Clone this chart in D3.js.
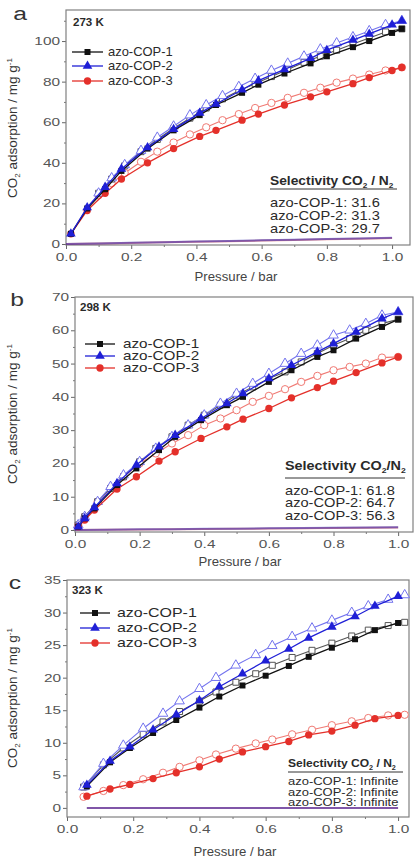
<!DOCTYPE html>
<html>
<head>
<meta charset="utf-8">
<script src="https://cdn.jsdelivr.net/npm/d3@7"></script>
<style>
body { margin: 0; background: #fff; }
text { font-family: "Liberation Sans", Arial, sans-serif; }
</style>
</head>
<body>
<div id="chart"></div>
<script>
// series names and selectivity labels
var names = ["azo-COP-1", "azo-COP-2", "azo-COP-3"];
var selA = ["31.6", "31.3", "29.7"];
var selB = ["61.8", "64.7", "56.3"];
var selC = ["Infinite", "Infinite", "Infinite"];

var xTicks = [0, 0.2, 0.4, 0.6, 0.8, 1.0];
var xMinor = [0.1, 0.3, 0.5, 0.7, 0.9];

// panel a, 273 K
var yTicksA = [0, 20, 40, 60, 80, 100];
var yMinorA = [10, 30, 50, 70, 90, 110];
var pAdsA = [0.015, 0.065, 0.12, 0.17, 0.25, 0.33, 0.41, 0.46, 0.54, 0.59, 0.67, 0.75, 0.80, 0.88, 0.93, 1.00, 1.03];
var ads1A = [5, 17.5, 27, 36, 47, 56, 63.5, 68.5, 74.5, 78.5, 84, 89, 92.5, 97, 100, 104, 106];
var ads2A = [5, 18, 28, 37, 47.5, 56.5, 64.5, 69, 76, 80.5, 86, 91.5, 95.5, 100.5, 103.5, 108, 110];
var ads3A = [5, 16.5, 25, 32, 40, 47, 53, 56, 61, 64, 68.5, 72.5, 75, 79, 82, 85.5, 87];
var pDesA = [1.03, 0.98, 0.93, 0.88, 0.83, 0.78, 0.73, 0.68, 0.63, 0.58, 0.53, 0.48, 0.43, 0.38, 0.33, 0.28, 0.23, 0.18, 0.14, 0.10];
var des1A = [106, 104.5, 101.5, 98.5, 95.5, 92.5, 89.5, 86, 82.5, 79, 75.5, 71.5, 67, 62, 57, 51.5, 45.5, 38.5, 32, 25];
var des2A = [110, 108, 105, 102, 99, 96, 92.5, 89, 85.5, 81.5, 77.5, 73, 68.5, 63.5, 58, 52.5, 46, 39, 32.5, 25];
var des3A = [87, 85.5, 83.5, 81.5, 79.5, 77, 74.5, 72, 69.5, 67, 64, 61, 57.5, 54, 50, 45.5, 40.5, 35, 30, 24];
var pN2A = [0, 0.1, 0.2, 0.3, 0.4, 0.5, 0.6, 0.7, 0.8, 0.9, 1.0];
var n21A = [0, 0.3, 0.6, 0.9, 1.2, 1.5, 1.8, 2.1, 2.4, 2.7, 3.0];
var n22A = [0, 0.3, 0.6, 0.9, 1.2, 1.5, 1.8, 2.1, 2.4, 2.7, 3.1];
var n23A = [0, 0.2, 0.5, 0.8, 1.1, 1.4, 1.7, 2.0, 2.3, 2.6, 2.9];

// panel b, 298 K
var yTicksB = [0, 10, 20, 30, 40, 50, 60, 70];
var yMinorB = [5, 15, 25, 35, 45, 55, 65];
var pAdsB = [0.01, 0.03, 0.06, 0.13, 0.19, 0.26, 0.31, 0.39, 0.47, 0.52, 0.60, 0.67, 0.75, 0.80, 0.87, 0.95, 1.00];
var ads1B = [1, 3.5, 6.5, 13.5, 18.5, 24, 28, 33, 37.5, 40, 44.5, 48, 52, 54, 57.5, 61, 63.3];
var ads2B = [1, 3.5, 6.8, 14, 19.5, 25, 28.5, 33.5, 38, 41, 45.5, 49.5, 53.5, 56, 59.5, 63.5, 65.5];
var ads3B = [1, 3, 6, 12.3, 16, 20.7, 23.5, 27.5, 31, 33.3, 36.5, 39.7, 42.8, 44.7, 47.3, 50.2, 52];
var pDesB = [1.0, 0.95, 0.90, 0.85, 0.80, 0.75, 0.70, 0.65, 0.60, 0.55, 0.50, 0.45, 0.40, 0.35, 0.30, 0.25, 0.20, 0.15, 0.11, 0.07, 0.03, 0.01];
var des1B = [63.3, 62, 60, 57.5, 55.5, 53, 50.5, 47.5, 45.5, 43, 40.5, 37.5, 34.5, 31.5, 28, 24.5, 20.5, 16, 12.5, 8.5, 4, 1.5];
var des2B = [65.5, 64.5, 62, 60, 58.5, 55.5, 53, 50, 47, 44, 41, 38, 34.5, 31.5, 28, 24.5, 20.5, 16.5, 13, 8.5, 4, 1.5];
var des3B = [52, 51.8, 50, 49, 48, 46.3, 44.5, 42.3, 40.3, 38.5, 36, 33.5, 31.5, 28.5, 26, 23, 20, 16, 12.5, 8.5, 4, 1.5];
var pN2B = [0, 0.1, 0.2, 0.3, 0.4, 0.5, 0.6, 0.7, 0.8, 0.9, 1.0];
var n21B = [0, 0.1, 0.15, 0.25, 0.3, 0.4, 0.5, 0.55, 0.65, 0.7, 0.8];
var n22B = [0, 0.1, 0.2, 0.25, 0.35, 0.4, 0.5, 0.6, 0.65, 0.75, 0.85];
var n23B = [0, 0.05, 0.15, 0.2, 0.3, 0.35, 0.45, 0.5, 0.6, 0.65, 0.75];

// panel c, 323 K
var yTicksC = [0, 5, 10, 15, 20, 25, 30, 35];
var yMinorC = [2.5, 7.5, 12.5, 17.5, 22.5, 27.5, 32.5];
var pAdsC = [0.06, 0.13, 0.19, 0.26, 0.33, 0.40, 0.46, 0.53, 0.60, 0.67, 0.73, 0.80, 0.87, 0.93, 1.00];
var ads1C = [3.3, 7.0, 9.2, 11.5, 13.5, 15.4, 17.1, 18.8, 20.3, 21.8, 23.2, 24.6, 25.9, 27.3, 28.4];
var ads2C = [3.5, 7.2, 9.4, 12.0, 14.3, 16.5, 18.6, 20.6, 22.6, 24.4, 26.1, 27.8, 29.4, 31.0, 32.5];
var ads3C = [1.8, 2.9, 3.6, 4.5, 5.4, 6.3, 7.5, 8.6, 9.4, 10.2, 11.2, 11.8, 12.7, 13.7, 14.2];
var pDesC = [1.02, 0.97, 0.91, 0.86, 0.80, 0.74, 0.68, 0.62, 0.57, 0.51, 0.45, 0.40, 0.34, 0.29, 0.23, 0.17, 0.11, 0.05];
var des1C = [28.5, 28.0, 27.3, 26.4, 25.3, 24.2, 23.1, 21.9, 20.6, 19.3, 17.8, 16.4, 14.8, 13.2, 11.3, 9.2, 6.6, 3.2];
var des2C = [32.7, 32.0, 31.0, 30.0, 28.8, 27.6, 26.3, 24.9, 23.5, 21.9, 20.0, 18.3, 16.4, 14.5, 12.2, 9.6, 6.8, 3.2];
var des3C = [14.3, 14.2, 13.8, 13.3, 12.7, 12.0, 11.3, 10.5, 9.9, 9.1, 8.2, 7.3, 6.3, 5.4, 4.4, 3.5, 2.6, 1.7];
var pN2C = [0.06, 0.2, 0.4, 0.6, 0.8, 1.0];
var n21C = [0, 0, 0, 0, 0, 0];
var n22C = [0, 0, 0, 0, 0, 0];
var n23C = [0, 0, 0, 0, 0, 0];

var colors = ["#111111", "#1f1fd6", "#e4302a"];
var lightColors = ["#555555", "#7373ee", "#f07a74"];
var n2Opacity = [0.15, 0.45, 0.5];
var shapes = [d3.symbolSquare, d3.symbolTriangle, d3.symbolCircle];
var sizes = [36, 40, 42];

var w = 416;
var h = 859;

var svg = d3.select("#chart")
            .append("svg")
            .attr("width", w)
            .attr("height", h);

function zip(xs, ys) {
    return xs.map(function(x, i) { return [x, ys[i]]; });
}

// text stretched wider, as in the picture
function stretchText(g, x, y, str, size, sx, anchor, weight) {
    return g.append("text")
        .attr("transform", "translate(" + x + "," + y + ") scale(" + sx + ",1)")
        .attr("text-anchor", anchor || "start")
        .attr("font-size", size)
        .attr("font-weight", weight || "normal")
        .attr("fill", "#2a2a2a")
        .text(str);
}

function drawPanel(p) {
    var x = d3.scaleLinear().domain(p.xDomain).range([p.left, p.right]);
    var y = d3.scaleLinear().domain(p.yDomain).range([p.bottom, p.top]);
    var g = svg.append("g");

    // minor ticks
    g.append("g")
        .attr("transform", "translate(0," + p.bottom + ")")
        .call(d3.axisBottom(x).tickValues(xMinor).tickSize(2).tickFormat(""))
        .call(function(a) { a.select(".domain").remove(); a.selectAll("line").attr("stroke", "#777"); });
    g.append("g")
        .attr("transform", "translate(" + p.left + ",0)")
        .call(d3.axisLeft(y).tickValues(p.yMinor.filter(function(v) { return v <= p.yDomain[1]; })).tickSize(2).tickFormat(""))
        .call(function(a) { a.select(".domain").remove(); a.selectAll("line").attr("stroke", "#777"); });

    // major ticks and labels
    var xa = g.append("g")
        .attr("transform", "translate(0," + p.bottom + ")")
        .call(d3.axisBottom(x).tickValues(xTicks).tickSize(4).tickFormat(d3.format(".1f")));
    xa.select(".domain").remove();
    xa.selectAll("line").attr("stroke", "#666");
    xa.selectAll("text")
        .attr("y", 8)
        .attr("transform", "scale(1.4,1)")
        .attr("font-size", 11)
        .attr("fill", "#555")
        .attr("font-family", "Liberation Sans, Arial, sans-serif");

    var ya = g.append("g")
        .attr("transform", "translate(" + p.left + ",0)")
        .call(d3.axisLeft(y).tickValues(p.yTicks).tickSize(4).tickFormat(d3.format("d")));
    ya.select(".domain").remove();
    ya.selectAll("line").attr("stroke", "#666");
    ya.selectAll("text")
        .attr("x", -6 / 1.4)
        .attr("transform", "scale(1.4,1)")
        .attr("font-size", 11)
        .attr("fill", "#555")
        .attr("font-family", "Liberation Sans, Arial, sans-serif");

    // frame
    g.append("rect")
        .attr("x", p.left)
        .attr("y", p.top)
        .attr("width", p.right - p.left)
        .attr("height", p.bottom - p.top)
        .attr("fill", "none")
        .attr("stroke", "#808080")
        .attr("stroke-width", 1.2);

    var line = d3.line()
        .x(function(d) { return x(d[0]); })
        .y(function(d) { return y(d[1]); });

    var order = [2, 0, 1];

    // N2 isotherms, overlapping into a purple line
    order.forEach(function(i) {
        g.append("path")
            .attr("d", line(zip(p.pN2, p.n2[i])))
            .attr("fill", "none")
            .attr("stroke", colors[i])
            .attr("stroke-opacity", n2Opacity[i])
            .attr("stroke-width", 2);
    });

    // desorption, open symbols
    order.forEach(function(i) {
        var pts = zip(p.pDes, p.des[i]);
        g.append("path")
            .attr("d", line(pts))
            .attr("fill", "none")
            .attr("stroke", lightColors[i])
            .attr("stroke-width", 1.1);
        g.selectAll(null)
            .data(pts)
            .enter()
            .append("path")
            .attr("transform", function(d) { return "translate(" + x(d[0]) + "," + y(d[1]) + ")"; })
            .attr("d", d3.symbol().type(shapes[i]).size(sizes[i]))
            .attr("fill", "#fff")
            .attr("stroke", lightColors[i])
            .attr("stroke-width", 1);
    });

    // adsorption, filled symbols
    order.forEach(function(i) {
        var pts = zip(p.pAds, p.ads[i]);
        g.append("path")
            .attr("d", line(pts))
            .attr("fill", "none")
            .attr("stroke", colors[i])
            .attr("stroke-width", 1.3);
        g.selectAll(null)
            .data(pts)
            .enter()
            .append("path")
            .attr("transform", function(d) { return "translate(" + x(d[0]) + "," + y(d[1]) + ")"; })
            .attr("d", d3.symbol().type(shapes[i]).size(sizes[i]))
            .attr("fill", colors[i]);
    });

    // legend
    names.forEach(function(n, i) {
        var ly = p.legY[i];
        g.append("line")
            .attr("x1", p.legX[0]).attr("x2", p.legX[1])
            .attr("y1", ly).attr("y2", ly)
            .attr("stroke", colors[i])
            .attr("stroke-width", 1.3);
        g.append("path")
            .attr("transform", "translate(" + (p.legX[0] + p.legX[1]) / 2 + "," + ly + ")")
            .attr("d", d3.symbol().type(shapes[i]).size(sizes[i]))
            .attr("fill", colors[i]);
        stretchText(g, p.legX[2], ly + 4, n, 12, p.legSx);
    });

    // temperature
    stretchText(g, p.tempPos[0], p.tempPos[1], p.temp, 11, 1.05, "start", "bold");

    // panel letter
    stretchText(g, p.letterPos[0], p.letterPos[1], p.letter, 19, 1.3, "middle").attr("fill", "#333");

    // selectivity box
    var st = stretchText(g, p.selPos[0], p.selPos[1], "", p.selSize, p.selTitleSx, "start", "bold");
    st.append("tspan").text("Selectivity CO");
    st.append("tspan").attr("font-size", p.selSize * 0.6).attr("dy", 3).text("2");
    st.append("tspan").attr("dy", -3).text(p.selSep + "N");
    st.append("tspan").attr("font-size", p.selSize * 0.6).attr("dy", 3).text("2");
    g.append("line")
        .attr("x1", p.selPos[0]).attr("x2", p.selLineEnd)
        .attr("y1", p.selLineY).attr("y2", p.selLineY)
        .attr("stroke", "#333")
        .attr("stroke-width", 1);
    names.forEach(function(n, i) {
        stretchText(g, p.selPos[0], p.selRowsY[i], n + ": " + p.sel[i], p.selRowSize, p.selRowSx);
    });

    // axis titles
    var xt = stretchText(g, p.xTitle[0], p.xTitle[1], p.xTitleText, 12, 1.1, "middle");
    xt.attr("fill", "#444");

    var yt = g.append("text")
        .attr("transform", "translate(" + p.yTitle[0] + "," + p.yTitle[1] + ") rotate(-90)")
        .attr("text-anchor", "middle")
        .attr("font-size", 13.5)
        .attr("fill", "#333");
    yt.append("tspan").text("CO");
    yt.append("tspan").attr("font-size", 8).attr("dy", 3).text("2");
    yt.append("tspan").attr("dy", -3).text(" adsorption / mg g");
    yt.append("tspan").attr("font-size", 8).attr("dy", -5).text("-1");
}

drawPanel({
    left: 66, right: 410, top: 10, bottom: 245,
    xDomain: [0, 1.055], yDomain: [-0.5, 115.3],
    yTicks: yTicksA, yMinor: yMinorA,
    pAds: pAdsA, ads: [ads1A, ads2A, ads3A],
    pDes: pDesA, des: [des1A, des2A, des3A],
    pN2: pN2A, n2: [n21A, n22A, n23A],
    legX: [72, 103, 108], legY: [52, 66, 81], legSx: 1.08,
    temp: "273 K", tempPos: [73, 26],
    letter: "a", letterPos: [20, 20],
    sel: selA, selSep: " / ", selPos: [270, 185], selLineY: 189, selLineEnd: 397,
    selRowsY: [207, 220, 233], selSize: 12, selRowSize: 12, selTitleSx: 1.15, selRowSx: 1.22,
    xTitle: [236, 281], xTitleText: "Pressure  / bar",
    yTitle: [17, 128]
});

drawPanel({
    left: 75, right: 413, top: 297, bottom: 532,
    xDomain: [0, 1.046], yDomain: [-0.6, 70],
    yTicks: yTicksB, yMinor: yMinorB,
    pAds: pAdsB, ads: [ads1B, ads2B, ads3B],
    pDes: pDesB, des: [des1B, des2B, des3B],
    pN2: pN2B, n2: [n21B, n22B, n23B],
    legX: [85, 115, 123], legY: [344, 356, 368], legSx: 1.27,
    temp: "298 K", tempPos: [80, 311],
    letter: "b", letterPos: [17, 306],
    sel: selB, selSep: "/", selPos: [285, 470], selLineY: 478, selLineEnd: 405,
    selRowsY: [495, 507, 520], selSize: 12, selRowSize: 12, selTitleSx: 1.2, selRowSx: 1.22,
    xTitle: [240, 566], xTitleText: "Pressure / bar",
    yTitle: [17, 414]
});

drawPanel({
    left: 67, right: 409, top: 580, bottom: 817,
    xDomain: [0, 1.033], yDomain: [-1.4, 35],
    yTicks: yTicksC, yMinor: yMinorC,
    pAds: pAdsC, ads: [ads1C, ads2C, ads3C],
    pDes: pDesC, des: [des1C, des2C, des3C],
    pN2: pN2C, n2: [n21C, n22C, n23C],
    legX: [80, 110, 117], legY: [613, 628, 643], legSx: 1.33,
    temp: "323 K", tempPos: [72, 594],
    letter: "c", letterPos: [15, 589],
    sel: selC, selSep: " / ", selPos: [288, 767], selLineY: 772, selLineEnd: 403,
    selRowsY: [785, 795.5, 806], selSize: 10.5, selRowSize: 10, selTitleSx: 1.15, selRowSx: 1.3,
    xTitle: [235, 856], xTitleText: "Pressure / bar",
    yTitle: [17, 698]
});
</script>
</body>
</html>
